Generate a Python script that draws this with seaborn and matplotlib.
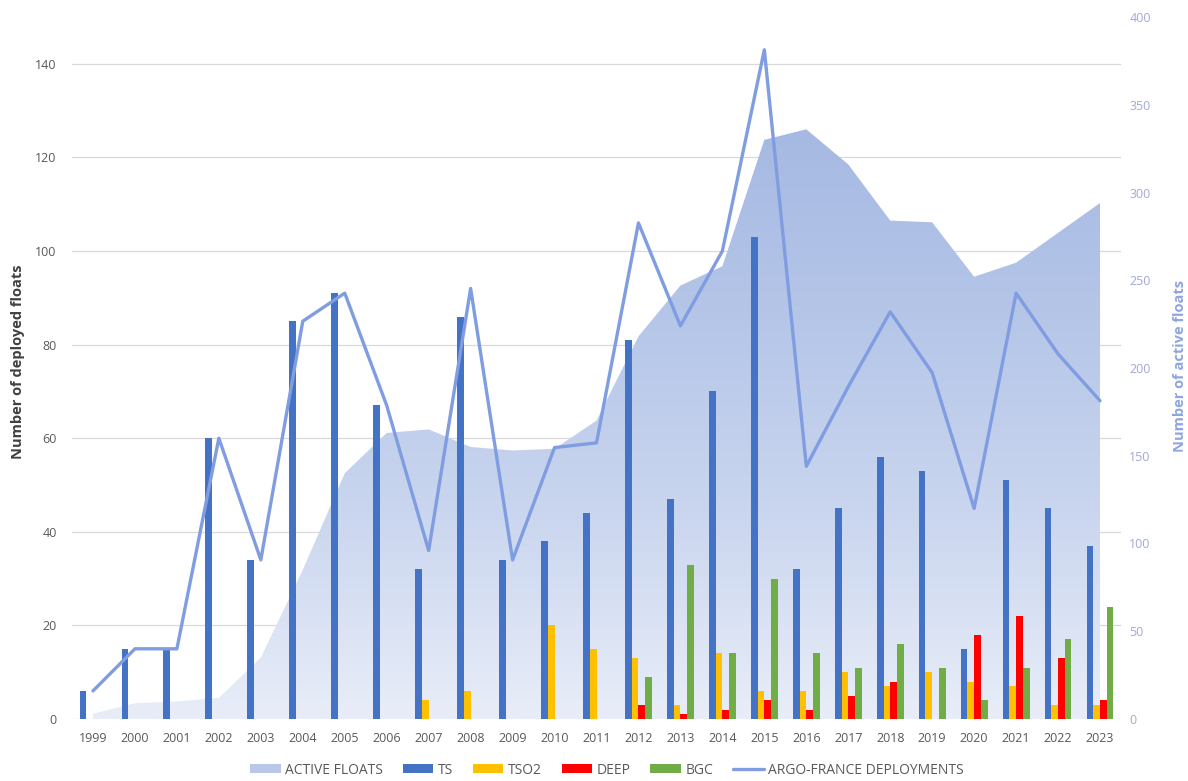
import numpy as np
import pandas as pd
import matplotlib
matplotlib.use("Agg")
import matplotlib.pyplot as plt
import seaborn as sns
from matplotlib.colors import LinearSegmentedColormap
from matplotlib.patches import Patch
from matplotlib.lines import Line2D

# ---------------- data ----------------
years = [str(y) for y in range(1999, 2024)]
ts = [6, 15, 15, 60, 34, 85, 91, 67, 32, 86, 34, 38, 44, 81, 47, 70, 103, 32, 45, 56, 53, 15, 51, 45, 37]
tso2 = [0, 0, 0, 0, 0, 0, 0, 0, 4, 6, 0, 20, 15, 13, 3, 14, 6, 6, 10, 7, 10, 8, 7, 3, 3]
deep = [0, 0, 0, 0, 0, 0, 0, 0, 0, 0, 0, 0, 0, 3, 1, 2, 4, 2, 5, 8, 0, 18, 22, 13, 4]
bgc = [0, 0, 0, 0, 0, 0, 0, 0, 0, 0, 0, 0, 0, 9, 33, 14, 30, 14, 11, 16, 11, 4, 11, 17, 24]
deployments = [6, 15, 15, 60, 34, 85, 91, 67, 36, 92, 34, 58, 59, 106, 84, 100, 143, 54, 71, 87, 74, 45, 91, 78, 68]
active_floats = [3, 9, 10, 12, 35, 85, 140, 163, 165, 155, 153, 154, 170, 218, 247, 258, 330, 336, 316, 284, 283, 252, 260, 277, 294]

types = ["TS", "TSO2", "DEEP", "BGC"]
type_colors = ["#4472C4", "#FFC000", "#FF0000", "#70AD47"]
line_color = "#7F9DE0"
left_ticks = list(range(0, 141, 20))
right_ticks = list(range(0, 401, 50))

# ---------------- style ----------------
sns.set_theme(style="white")
plt.rcParams["font.family"] = ["Open Sans", "DejaVu Sans"]
narrow = ["Liberation Sans Narrow", "Open Sans", "DejaVu Sans"]

W, H = 1188, 781
fig = plt.figure(figsize=(W / 100, H / 100), dpi=100)
fig.patch.set_facecolor("white")
ax = fig.add_axes([72 / W, 1 - 719 / H, (1121 - 72) / W, (719 - 17) / H])
ax2 = ax.twinx()
ax.set_ylim(0, 150)
ax2.set_ylim(0, 400)

x = np.arange(len(years))

# ---------------- active floats area (right axis scale), gradient fill ----------------
poly = ax.fill_between(x, active_floats, 0, transform=ax2.transData,
                       facecolor="none", edgecolor="none", zorder=0.8)
cmap = LinearSegmentedColormap.from_list(
    "grad", [(0.0, "#E8EDF8"), (0.35, "#CAD6EF"), (0.7, "#B4C5E8"), (1.0, "#A6B9E2")])
grad = np.linspace(0, 1, 256).reshape(-1, 1)
im = ax.imshow(grad, extent=(-0.5, len(years) - 0.5, 0, max(active_floats)),
               origin="lower", aspect="auto", cmap=cmap, transform=ax2.transData,
               zorder=0.8, interpolation="bilinear")
im.set_clip_path(poly.get_paths()[0], transform=ax2.transData)

# ---------------- bars ----------------
df = pd.DataFrame({
    "year": years * 4,
    "type": sum([[t] * len(years) for t in types], []),
    "count": ts + tso2 + deep + bgc,
})
sns.barplot(data=df, x="year", y="count", hue="type", hue_order=types,
            palette=type_colors, width=0.64, errorbar=None, saturation=1,
            linewidth=0, ax=ax, legend=False, zorder=2)

# ---------------- deployments line ----------------
sns.lineplot(x=x, y=deployments, ax=ax, color=line_color, linewidth=2.4,
             legend=False, zorder=3, sort=False)

# ---------------- axes cosmetics ----------------
ax.set_xlim(-0.5, len(years) - 0.5)
ax.set_ylim(0, 150)
ax2.set_ylim(0, 400)
ax.set_xticks(x)
ax.set_xticklabels(years)
ax.set_yticks(left_ticks)
ax2.set_yticks(right_ticks)
ax.set_xlabel("")
ax.set_ylabel("")
ax2.set_ylabel("")
ax.grid(axis="y", color="#D9D9D9", linewidth=0.9)
ax.grid(axis="x", visible=False)
ax2.grid(False)
ax.set_axisbelow(True)
for a in (ax, ax2):
    for s in a.spines.values():
        s.set_visible(False)
ax.tick_params(axis="y", length=0, pad=11, labelsize=9, labelcolor="#595959")
ax.tick_params(axis="x", length=0, pad=9, labelsize=9, labelcolor="#595959")
ax2.tick_params(axis="y", length=0, pad=6, labelsize=9, labelcolor="#A0A8D8")

fig.text(18 / W, 1 - 362 / H, "Number of deployed floats", rotation=90,
         ha="center", va="center", fontsize=10.5, fontweight="bold",
         color="#404040", family=narrow)
fig.text(1180 / W, 1 - 366 / H, "Number of active floats", rotation=90,
         ha="center", va="center", fontsize=10.5, fontweight="bold",
         color="#8EA5E0", family=narrow)

# ---------------- legend ----------------
handles = [Patch(facecolor="#B9C7E8", edgecolor="none")]
handles += [Patch(facecolor=c, edgecolor="none") for c in type_colors]
handles += [Line2D([0], [0], color=line_color, linewidth=2.4)]
labels = ["ACTIVE FLOATS"] + types + ["ARGO-FRANCE DEPLOYMENTS"]
leg = fig.legend(handles, labels, loc="center", bbox_to_anchor=(0.511, 0.014),
                 ncol=6, frameon=False, handlelength=2.2, handleheight=0.55,
                 handletextpad=0.35, columnspacing=1.4,
                 prop={"family": narrow, "size": 10})
for t in leg.get_texts():
    t.set_color("#595959")

fig.savefig("out.png", dpi=100, facecolor="white")
